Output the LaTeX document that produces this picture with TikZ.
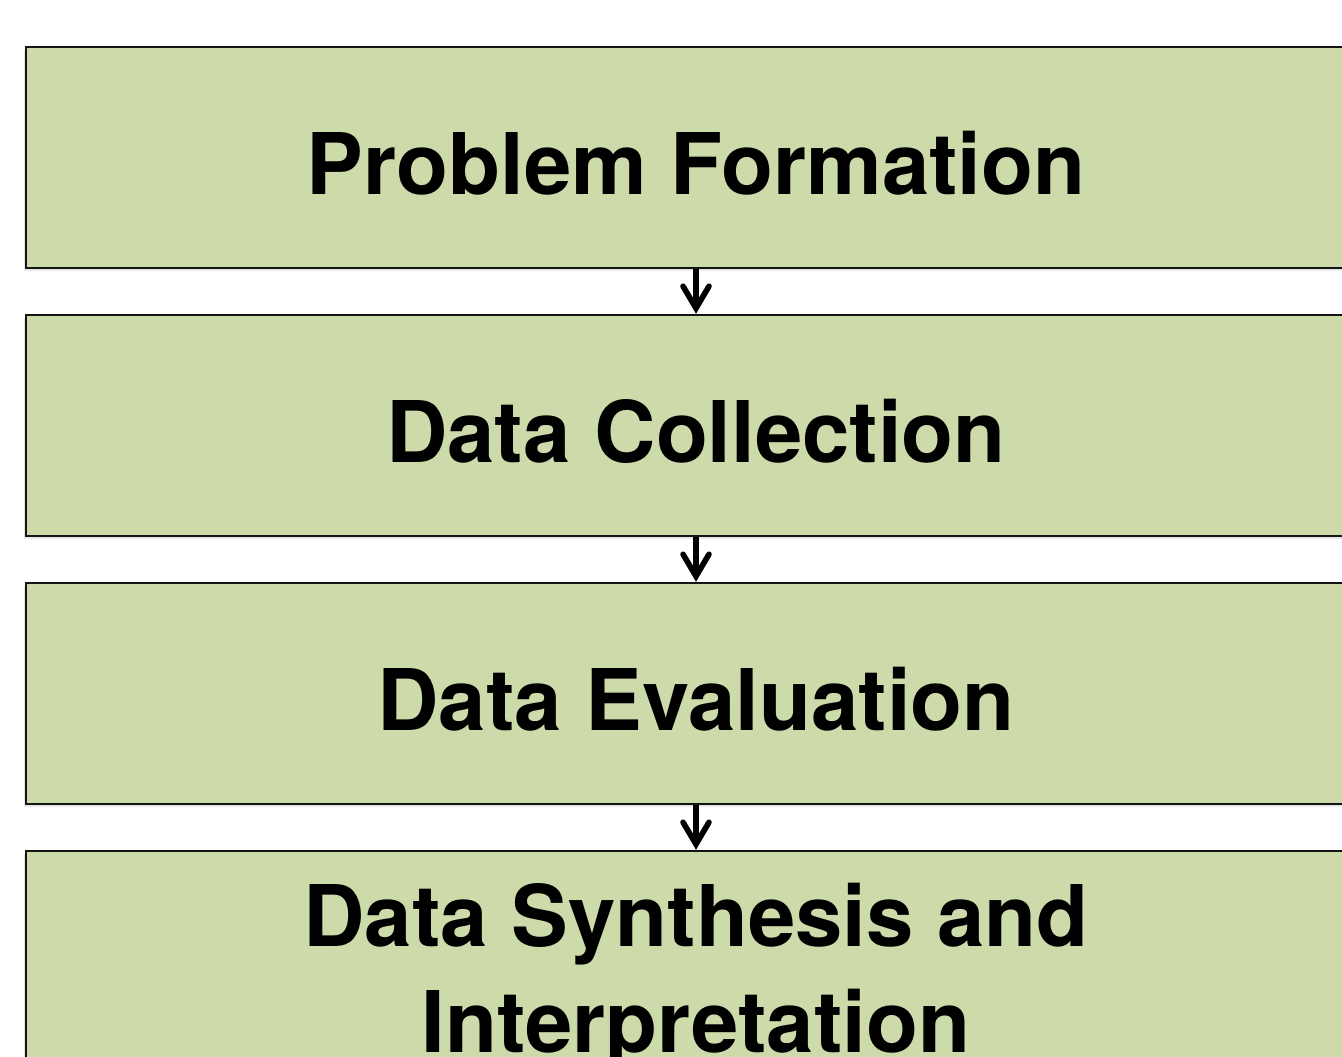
\documentclass[tikz,border=0pt]{standalone}
\usepackage{fontspec}
\setmainfont{TeX Gyre Heros}
\usepackage{xcolor}
\definecolor{stagegreen}{RGB}{205,219,171}
\definecolor{stageedge}{RGB}{20,20,20}
\usetikzlibrary{arrows.meta,shadows}

\begin{document}
\begin{tikzpicture}[
  stagebox/.style={rectangle, draw=stageedge, line width=0.7pt, fill=stagegreen,
                minimum width=13.4cm, minimum height=2.21cm,
                font=\fontsize{24.2}{30.2}\selectfont\bfseries, align=center,
                text height=0.86cm, text depth=0.12cm,
                drop shadow={shadow xshift=-0.02cm, shadow yshift=-0.03cm, opacity=0.18}},
  stagetext/.style={font=\fontsize{24.2}{30.2}\selectfont\bfseries, align=center,
                text height=0.86cm, text depth=0.12cm},
  arr/.style={-{Straight Barb[length=0.22cm, width=0.26cm, line cap=round]}, line width=1.6pt, draw=black}
]
\clip (0,0) rectangle (13.42,-10.56);

% Stage 1 (top): Problem
\node[stagebox] (problem) at (6.96,-1.575) {Problem Formation};

% Stage 2: Collection
\node[stagebox] (collect) at (6.96,-4.255) {Data Collection};

% Stage 3: Evaluation
\node[stagebox] (evaluate) at (6.96,-6.935) {Data Evaluation};

% Stage 4 (bottom): Synthesis
\node[stagebox] (synth) at (6.96,-9.615) {};
\node[stagetext] (synthtext) at (6.96,-10.155) {Data Synthesis and\\Interpretation};

% Arrows
\draw[arr] (problem.south) -- (collect.north);
\draw[arr] (collect.south) -- (evaluate.north);
\draw[arr] (evaluate.south) -- (synth.north);
\end{tikzpicture}
\end{document}
